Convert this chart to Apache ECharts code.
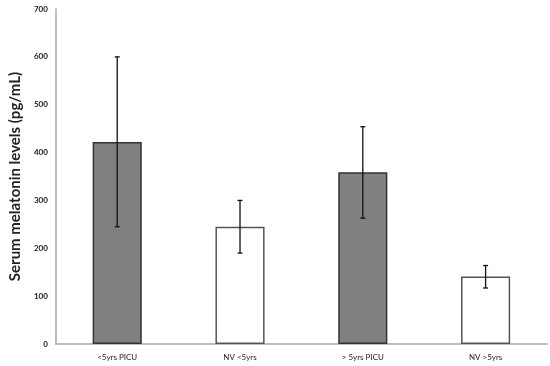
<!DOCTYPE html>
<html><head><meta charset="utf-8">
<script src="https://cdn.jsdelivr.net/npm/echarts@6/dist/echarts.min.js"></script>
<style>html,body{margin:0;padding:0;background:#fff}#c{width:550px;height:366px}</style>
</head><body><div id="c"></div>
<script>
var categories = ['<5yrs PICU', 'NV <5yrs', '> 5yrs PICU', 'NV >5yrs'];
var means = [422, 245, 359, 141];
var errLow = [245, 190, 263, 117];
var errHigh = [600, 300, 454, 164];
var barColors = ['#808080', '#ffffff', '#808080', '#ffffff'];
var yTicks = [0, 100, 200, 300, 400, 500, 600, 700];

var chart = echarts.init(document.getElementById('c'));
var font = 'Lato, "Open Sans", sans-serif';
chart.setOption({
  animation: false,
  grid: {left: 43, right: 3, top: 9, bottom: 22},
  xAxis: {
    type: 'category', data: categories,
    axisLine: {lineStyle: {color: '#a6a6a6', width: 1.5}},
    axisTick: {show: false},
    axisLabel: {color: '#222', fontSize: 8, fontFamily: font, margin: 9}
  },
  yAxis: {
    type: 'value', min: yTicks[0], max: yTicks[yTicks.length - 1], interval: 100,
    name: 'Serum melatonin levels (pg/mL)', nameLocation: 'middle', nameGap: 22,
    nameTextStyle: {fontSize: 15, fontWeight: 'bold', color: '#222', fontFamily: font},
    axisLine: {show: true, lineStyle: {color: '#a6a6a6', width: 1.5}},
    axisTick: {show: false},
    splitLine: {show: false},
    axisLabel: {color: '#222', fontSize: 8, fontWeight: 'bold', fontFamily: font, margin: 8}
  },
  series: [
    {
      type: 'bar', barWidth: '40%',
      data: means.map(function (v, i) {
        return {value: v, itemStyle: {color: barColors[i], borderColor: i % 2 ? '#555' : '#333', borderWidth: 1.5}};
      })
    },
    {
      type: 'custom',
      data: categories.map(function (c, i) { return [i, errLow[i], errHigh[i]]; }),
      renderItem: function (params, api) {
        var lo = api.coord([api.value(0), api.value(1)]);
        var hi = api.coord([api.value(0), api.value(2)]);
        var cw = 2.5;
        var st = {stroke: '#111', lineWidth: 1.3};
        return {type: 'group', children: [
          {type: 'line', shape: {x1: hi[0], y1: hi[1], x2: lo[0], y2: lo[1]}, style: st},
          {type: 'line', shape: {x1: hi[0] - cw, y1: hi[1], x2: hi[0] + cw, y2: hi[1]}, style: st},
          {type: 'line', shape: {x1: lo[0] - cw, y1: lo[1], x2: lo[0] + cw, y2: lo[1]}, style: st}
        ]};
      },
      z: 5
    }
  ]
});
</script></body></html>
